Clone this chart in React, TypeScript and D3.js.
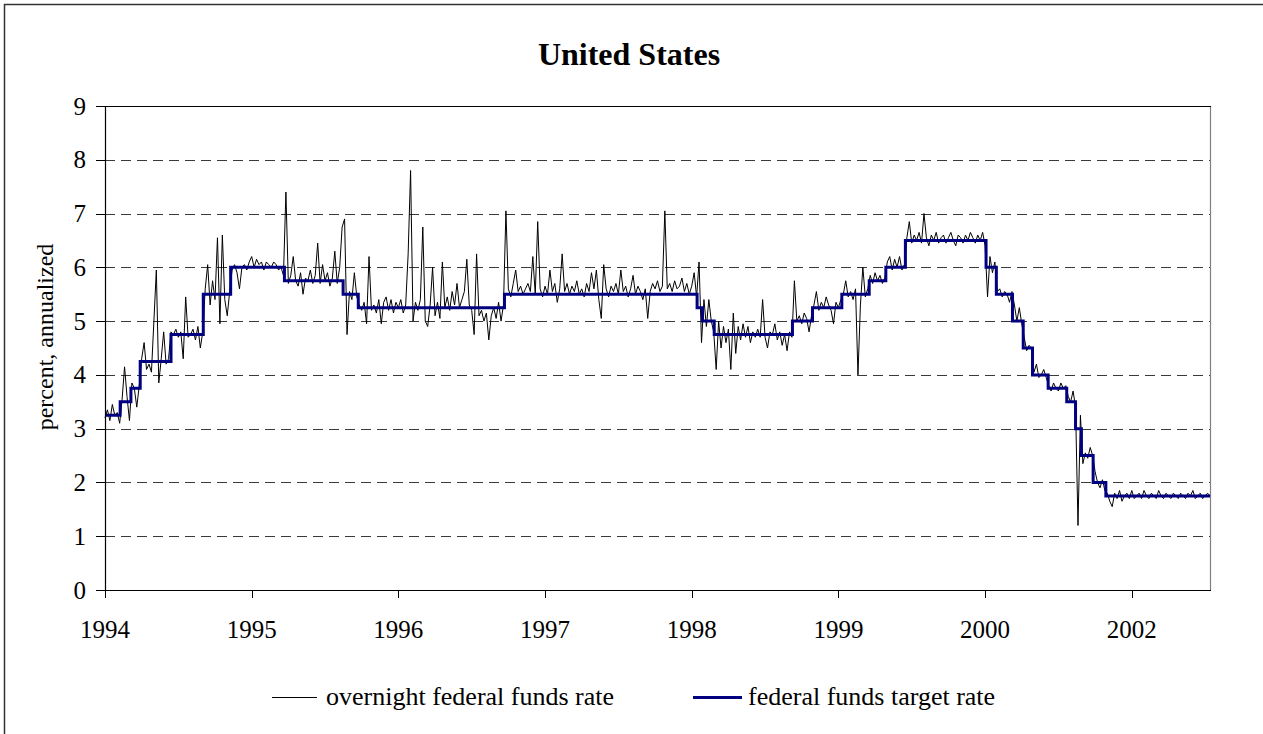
import React from "react";
import * as d3 from "d3";

// x = observation index (daily observations), 300 observations per labelled tick
const xTickIndex = [0, 300, 600, 900, 1200, 1500, 1800, 2100];
const xTickLabels = ["1994", "1995", "1996", "1997", "1998", "1999", "2000", "2002"];
const yTicks = [0, 1, 2, 3, 4, 5, 6, 7, 8, 9];
const xMax = 2260;

// federal funds target rate: [observation index where the step starts, rate]
const targetRate: [number, number][] = [
  [0, 3.25], [31, 3.5], [53, 3.75], [72, 4.25], [135, 4.75], [201, 5.5], [257, 6.0],
  [367, 5.75], [487, 5.5], [518, 5.25], [817, 5.5], [1211, 5.25], [1222, 5.0],
  [1246, 4.75], [1406, 5.0], [1447, 5.25], [1507, 5.5], [1563, 5.75], [1597, 6.0],
  [1637, 6.5], [1802, 6.0], [1823, 5.5], [1856, 5.0], [1878, 4.5], [1897, 4.0],
  [1929, 3.75], [1967, 3.5], [1985, 3.0], [1997, 2.5], [2021, 2.0], [2047, 1.75],
  [2260, 1.75],
];

const overnight1994: [number, number][] = [
  [0, 3.2], [5, 3.35], [10, 3.15], [15, 3.45], [20, 3.25], [25, 3.3], [30, 3.1],
  [35, 3.55], [40, 4.15], [45, 3.6], [50, 3.15], [55, 3.85], [60, 3.75], [65, 3.4], [70, 3.8],
  [75, 4.3], [80, 4.6], [85, 4.1], [90, 4.2], [95, 4.05], [100, 5.0], [105, 5.95], [110, 3.85],
  [115, 4.3], [120, 4.8], [125, 4.2], [130, 4.3],
  [135, 4.8], [140, 4.75], [145, 4.85], [150, 4.7], [155, 4.8], [160, 4.3], [165, 5.45],
  [170, 4.7], [175, 4.75], [180, 4.85], [185, 4.65], [190, 4.9], [195, 4.5], [200, 4.8],
  [205, 5.6], [210, 6.05], [215, 5.3], [220, 5.75], [225, 5.4], [230, 6.55], [235, 4.95],
  [240, 6.6], [245, 5.4], [250, 5.1], [255, 5.55],
];
const overnight1995: [number, number][] = [
  [260, 5.95], [265, 6.05], [270, 5.9], [275, 5.6], [280, 6.0], [285, 6.05], [290, 5.95],
  [295, 6.1], [300, 6.2], [305, 6.0], [310, 6.15], [315, 6.05], [320, 6.1], [325, 5.95],
  [330, 6.1], [335, 6.05], [340, 6.0], [345, 6.1], [350, 6.05], [355, 5.95], [360, 6.0],
  [365, 5.85], [370, 7.4], [375, 5.7], [380, 5.85], [385, 6.2], [390, 5.75], [395, 5.65],
  [400, 5.9], [405, 5.5], [410, 5.8], [415, 5.75], [420, 5.95], [425, 5.7], [430, 5.85],
  [435, 6.45], [440, 5.7], [445, 6.05], [450, 5.75], [455, 5.9], [460, 5.65], [465, 5.8],
  [470, 6.3], [475, 5.7], [480, 6.0], [485, 6.75], [490, 6.9], [495, 4.75], [500, 5.55],
  [505, 5.4], [510, 5.9], [515, 5.45],
];
const overnight1996: [number, number][] = [
  [520, 5.3], [525, 5.2], [530, 5.35], [535, 4.95], [540, 6.2], [545, 5.2], [550, 5.3],
  [555, 5.15], [560, 5.4], [565, 4.95], [570, 5.35], [575, 5.45], [580, 5.2], [585, 5.4],
  [590, 5.15], [595, 5.35], [600, 5.25], [605, 5.4], [610, 5.15], [615, 5.3], [620, 6.25],
  [625, 7.8], [630, 5.0], [635, 5.35], [640, 5.2], [645, 5.4], [650, 6.75], [655, 5.0],
  [660, 4.9], [665, 5.3], [670, 6.0], [675, 5.1], [680, 5.35], [685, 5.05], [690, 6.1],
  [695, 5.25], [700, 5.45], [705, 5.2], [710, 5.55], [715, 5.3], [720, 5.7], [725, 5.25],
  [730, 5.4], [735, 5.55], [740, 6.15], [745, 5.3], [750, 5.2], [755, 4.75], [760, 6.25],
  [765, 5.1], [770, 5.2], [775, 5.0], [780, 5.15], [785, 4.65], [790, 5.1], [795, 5.25],
  [800, 5.05], [805, 5.35], [810, 5.0], [815, 5.3],
];
const overnight1997: [number, number][] = [
  [820, 7.05], [825, 5.6], [830, 5.45], [835, 5.7], [840, 5.95], [845, 5.55], [850, 5.65],
  [855, 5.5], [860, 5.6], [865, 5.7], [870, 5.55], [875, 6.2], [880, 5.5], [885, 6.85],
  [890, 5.6], [895, 5.45], [900, 5.65], [905, 5.5], [910, 5.95], [915, 5.55], [920, 5.7],
  [925, 5.35], [930, 5.6], [935, 6.25], [940, 5.55], [945, 5.7], [950, 5.5], [955, 5.65],
  [960, 5.55], [965, 5.75], [970, 5.5], [975, 5.6], [980, 5.45], [985, 5.7], [990, 5.55],
  [995, 5.9], [1000, 5.6], [1005, 5.95], [1010, 5.4], [1015, 5.05], [1020, 6.05], [1025, 5.6],
  [1030, 5.45], [1035, 5.65], [1040, 5.55], [1045, 5.7], [1050, 5.5], [1055, 5.95],
  [1060, 5.55], [1065, 5.65], [1070, 5.45], [1075, 5.6], [1080, 5.85], [1085, 5.5],
  [1090, 5.65], [1095, 5.55], [1100, 5.4], [1105, 5.6], [1110, 5.05], [1115, 5.55],
  [1120, 5.7], [1125, 5.6], [1130, 5.75], [1135, 5.55], [1140, 5.65], [1145, 7.05],
  [1150, 5.6], [1155, 5.7], [1160, 5.55], [1165, 5.75], [1170, 5.6], [1175, 5.65],
  [1180, 5.8], [1185, 5.55], [1190, 5.7], [1195, 5.5], [1200, 5.65], [1205, 5.9], [1210, 5.45],
];
const overnight1998: [number, number][] = [
  [1215, 6.1], [1220, 4.6], [1225, 5.4], [1230, 4.9], [1235, 5.4], [1240, 5.0], [1245, 4.8],
  [1250, 4.1], [1255, 5.0], [1260, 4.5], [1265, 4.9], [1270, 4.6], [1275, 4.85], [1280, 4.1],
  [1285, 5.15], [1290, 4.4], [1295, 4.9], [1300, 4.65], [1305, 4.95], [1310, 4.7],
  [1315, 4.9], [1320, 4.6], [1325, 4.8], [1330, 4.7], [1335, 4.85], [1340, 4.7], [1345, 5.4],
  [1350, 4.7], [1355, 4.5], [1360, 4.8], [1365, 4.75], [1370, 4.95], [1375, 4.65],
  [1380, 4.8], [1385, 4.55], [1390, 4.75], [1395, 4.45], [1400, 4.8], [1405, 4.7],
  [1410, 5.75], [1415, 5.0], [1420, 5.1], [1425, 4.95], [1430, 5.15], [1435, 5.05],
  [1440, 4.8], [1445, 5.1],
];
const overnight1999: [number, number][] = [
  [1450, 5.3], [1455, 5.55], [1460, 5.2], [1465, 5.35], [1470, 5.25], [1475, 5.45],
  [1480, 5.3], [1485, 5.2], [1490, 4.95], [1495, 5.35], [1500, 5.25], [1505, 5.4],
  [1510, 5.5], [1515, 5.75], [1520, 5.45], [1525, 5.55], [1530, 5.4], [1535, 5.6],
  [1540, 4.0], [1545, 5.3], [1550, 6.0], [1555, 5.45], [1560, 5.6], [1565, 5.85],
  [1570, 5.7], [1575, 5.9], [1580, 5.75], [1585, 5.85], [1590, 5.7], [1595, 5.8],
  [1600, 6.1], [1605, 6.2], [1610, 5.95], [1615, 6.15], [1620, 6.0], [1625, 6.2],
  [1630, 5.95], [1635, 6.05],
];
const overnight2000: [number, number][] = [
  [1640, 6.55], [1645, 6.85], [1650, 6.45], [1655, 6.6], [1660, 6.5], [1665, 6.65],
  [1670, 6.45], [1675, 7.0], [1680, 6.55], [1685, 6.4], [1690, 6.6], [1695, 6.5],
  [1700, 6.65], [1705, 6.45], [1710, 6.55], [1715, 6.6], [1720, 6.45], [1725, 6.55],
  [1730, 6.65], [1735, 6.5], [1740, 6.4], [1745, 6.6], [1750, 6.55], [1755, 6.45],
  [1760, 6.6], [1765, 6.5], [1770, 6.65], [1775, 6.55], [1780, 6.45], [1785, 6.6],
  [1790, 6.5], [1795, 6.65], [1800, 6.4],
];
const overnight2001: [number, number][] = [
  [1805, 5.45], [1810, 6.2], [1815, 5.9], [1820, 6.1], [1825, 5.55], [1830, 5.6],
  [1835, 5.45], [1840, 5.55], [1845, 5.5], [1850, 5.35], [1855, 5.55], [1860, 5.3],
  [1865, 5.0], [1870, 5.25], [1875, 4.95], [1880, 4.7], [1885, 4.45], [1890, 4.55],
  [1895, 4.5], [1900, 4.05], [1905, 4.2], [1910, 3.95], [1915, 4.0], [1920, 4.1],
  [1925, 3.95], [1930, 3.8], [1935, 3.7], [1940, 3.85], [1945, 3.75], [1950, 3.7],
  [1955, 3.85], [1960, 3.75], [1965, 3.8], [1970, 3.6], [1975, 3.5], [1980, 3.7],
  [1985, 3.4], [1990, 1.2], [1995, 3.25], [2000, 2.35], [2005, 2.55], [2010, 2.45],
  [2015, 2.65], [2020, 2.5], [2025, 2.2], [2030, 2.0], [2035, 1.9], [2040, 2.05],
  [2045, 1.85],
];
const overnight2002: [number, number][] = [
  [2050, 1.8], [2055, 1.65], [2060, 1.55], [2065, 1.8], [2070, 1.7], [2075, 1.85],
  [2080, 1.65], [2085, 1.75], [2090, 1.8], [2095, 1.7], [2100, 1.85], [2105, 1.7],
  [2110, 1.75], [2115, 1.8], [2120, 1.7], [2125, 1.85], [2130, 1.75], [2135, 1.7],
  [2140, 1.8], [2145, 1.75], [2150, 1.7], [2155, 1.85], [2160, 1.75], [2165, 1.7],
  [2170, 1.8], [2175, 1.75], [2180, 1.7], [2185, 1.8], [2190, 1.75], [2195, 1.7],
  [2200, 1.8], [2205, 1.75], [2210, 1.7], [2215, 1.8], [2220, 1.75], [2225, 1.85],
  [2230, 1.7], [2235, 1.75], [2240, 1.8], [2245, 1.7], [2250, 1.75], [2255, 1.8],
  [2260, 1.75],
];

const overnightRate = [
  ...overnight1994, ...overnight1995, ...overnight1996, ...overnight1997,
  ...overnight1998, ...overnight1999, ...overnight2000, ...overnight2001, ...overnight2002,
];

const W = 1263;
const H = 734;
const plot = { left: 105, right: 1210, top: 106, bottom: 590 };
const FONT = "'Liberation Serif', 'Times New Roman', serif";

export default function App() {
  const x = d3.scaleLinear().domain([0, xMax]).range([plot.left, plot.right]);
  const y = d3.scaleLinear().domain([0, 9]).range([plot.bottom, plot.top]);

  const onLine = d3
    .line<[number, number]>()
    .x((d) => x(d[0]))
    .y((d) => y(d[1]));
  const tgtLine = d3
    .line<[number, number]>()
    .x((d) => x(d[0]))
    .y((d) => y(d[1]))
    .curve(d3.curveStepAfter);

  return (
    <svg
      width={W}
      height={H}
      style={{ position: "absolute", left: 0, top: 0, background: "#fff" }}
      fontFamily={FONT}
    >
      <rect x={0} y={0} width={W} height={H} fill="#fff" />
      {/* chart area border */}
      <rect x={4.5} y={4.5} width={W + 10} height={H + 10} fill="none" stroke="#333" strokeWidth={1.5} />

      {/* title */}
      <text x={629} y={65} textAnchor="middle" fontSize={32} fontWeight="bold" fill="#000">
        United States
      </text>

      {/* gridlines */}
      {yTicks
        .filter((t) => t > 0 && t < 9)
        .map((t) => (
          <line
            key={"g" + t}
            x1={plot.left}
            x2={plot.right}
            y1={Math.round(y(t)) + 0.5}
            y2={Math.round(y(t)) + 0.5}
            stroke="#3a3a3a"
            strokeWidth={1}
            strokeDasharray="10,6"
          />
        ))}

      {/* plot area border */}
      <line x1={plot.right + 0.5} x2={plot.right + 0.5} y1={plot.top} y2={plot.bottom} stroke="#808080" strokeWidth={1.2} />
      <line x1={plot.left} x2={plot.right + 1} y1={plot.top + 0.5} y2={plot.top + 0.5} stroke="#000" strokeWidth={1.2} />

      {/* series */}
      <path d={onLine(overnightRate) || ""} fill="none" stroke="#000" strokeWidth={1} strokeLinejoin="miter" />
      <path d={tgtLine(targetRate) || ""} fill="none" stroke="#000080" strokeWidth={3} />

      {/* axes */}
      <line x1={plot.left + 0.5} x2={plot.left + 0.5} y1={plot.top} y2={plot.bottom} stroke="#000" strokeWidth={1.2} />
      <line x1={plot.left} x2={plot.right + 1} y1={plot.bottom + 0.5} y2={plot.bottom + 0.5} stroke="#000" strokeWidth={1.2} />

      {yTicks.map((t) => (
        <g key={"y" + t}>
          <line x1={96} x2={plot.left} y1={Math.round(y(t)) + 0.5} y2={Math.round(y(t)) + 0.5} stroke="#000" strokeWidth={1} />
          <text x={86} y={y(t)} dy="0.34em" textAnchor="end" fontSize={25} fill="#000">
            {t}
          </text>
        </g>
      ))}

      {xTickIndex.map((t, i) => (
        <g key={"x" + t}>
          <line x1={Math.round(x(t)) + 0.5} x2={Math.round(x(t)) + 0.5} y1={plot.bottom} y2={598} stroke="#000" strokeWidth={1} />
          <text x={x(t)} y={638} textAnchor="middle" fontSize={25} fill="#000">
            {xTickLabels[i]}
          </text>
        </g>
      ))}

      {/* y axis title */}
      <text transform="translate(53,337) rotate(-90)" textAnchor="middle" fontSize={24} fill="#000">
        percent, annualized
      </text>

      {/* legend */}
      <line x1={272} x2={317} y1={697.5} y2={697.5} stroke="#000" strokeWidth={1} />
      <text x={326} y={705} fontSize={26} fill="#000">
        overnight federal funds rate
      </text>
      <line x1={693} x2={742} y1={697.5} y2={697.5} stroke="#000080" strokeWidth={3} />
      <text x={748} y={705} fontSize={26} fill="#000">
        federal funds target rate
      </text>
    </svg>
  );
}
